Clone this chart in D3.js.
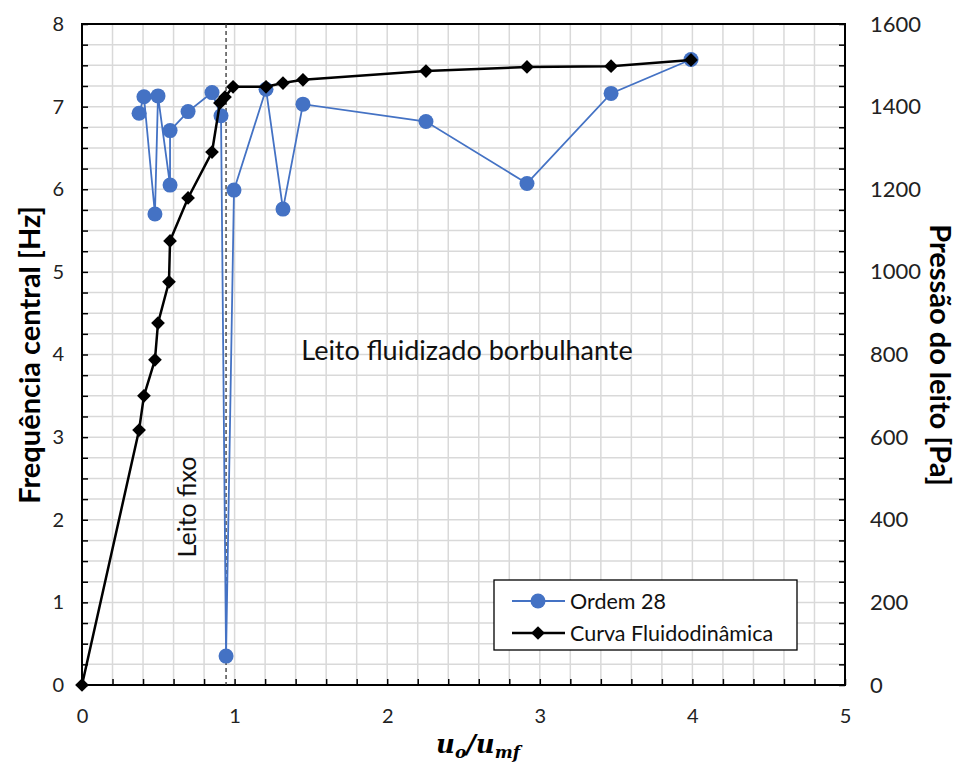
<!DOCTYPE html>
<html><head><meta charset="utf-8">
<script src="https://cdn.jsdelivr.net/npm/d3@7"></script>
<style>body{margin:0;background:#fff}svg{display:block}</style>
</head><body>
<script>
// Data
const uOrdem = [0.374,0.406,0.478,0.498,0.577,0.577,0.695,0.852,0.911,0.944,0.996,1.206,1.317,1.448,2.254,2.916,3.467,3.991];
const freqOrdem = [6.92,7.12,5.70,7.13,6.05,6.71,6.94,7.17,6.89,0.35,5.99,7.21,5.76,7.03,6.82,6.07,7.16,7.57];
const uCurva = [0,0.374,0.406,0.478,0.498,0.570,0.577,0.695,0.852,0.904,0.937,0.990,1.206,1.317,1.448,2.254,2.916,3.467,3.991];
const pCurva = [0,617,700,787,876,976,1075,1179,1290,1409,1423,1448,1448,1457,1465,1486,1496,1498,1513];
const xTicks = [0,1,2,3,4,5];
const yTicks = [0,1,2,3,4,5,6,7,8];
const y2Ticks = [0,200,400,600,800,1000,1200,1400,1600];
const uMf = 0.944;

const W=960,H=763;
const L=82,R=845,T=24,B=685;
const svg=d3.select("body").append("svg").attr("width",W).attr("height",H);
const x=d3.scaleLinear().domain([0,5]).range([L,R]);
const y=d3.scaleLinear().domain([0,8]).range([B,T]);
const y2=d3.scaleLinear().domain([0,1600]).range([B,T]);
const font="Lato, 'Open Sans', sans-serif";

// gridlines
const g=svg.append("g");
g.selectAll(".vg").data(d3.range(1,25).map(i=>i*0.2)).enter().append("line")
 .attr("x1",d=>x(d)).attr("x2",d=>x(d)).attr("y1",T).attr("y2",B)
 .attr("stroke","#d9d9d9").attr("stroke-width",1.5);
g.selectAll(".hg").data(d3.range(1,32).map(i=>i*0.25)).enter().append("line")
 .attr("y1",d=>y(d)).attr("y2",d=>y(d)).attr("x1",L).attr("x2",R)
 .attr("stroke","#d9d9d9").attr("stroke-width",1.5);

// axes with inward minor ticks
const minorX=d3.range(0,26).map(i=>i*0.2);
const minorY=d3.range(0,33).map(i=>i*0.25);
const minorY2=d3.range(0,33).map(i=>i*50);
svg.append("g").attr("transform",`translate(0,${B})`)
 .call(d3.axisTop(x).tickValues(minorX).tickSize(6).tickFormat(""))
 .call(a=>a.select(".domain").remove()).selectAll("line").attr("stroke","#000").attr("stroke-width",1.5);
svg.append("g").attr("transform",`translate(${L},0)`)
 .call(d3.axisRight(y).tickValues(minorY).tickSize(6).tickFormat(""))
 .call(a=>a.select(".domain").remove()).selectAll("line").attr("stroke","#000").attr("stroke-width",1.5);
svg.append("g").attr("transform",`translate(${R},0)`)
 .call(d3.axisLeft(y2).tickValues(minorY2).tickSize(6).tickFormat(""))
 .call(a=>a.select(".domain").remove()).selectAll("line").attr("stroke","#000").attr("stroke-width",1.5);

// tick labels
svg.append("g").attr("transform",`translate(0,${B+4})`)
 .call(d3.axisBottom(x).tickValues(xTicks).tickSize(0).tickPadding(20).tickFormat(d3.format("d")))
 .call(a=>a.select(".domain").remove()).selectAll("text").attr("font-family",font).attr("font-size",20).attr("fill","#222");
svg.append("g").attr("transform",`translate(${L-12},0)`)
 .call(d3.axisLeft(y).tickValues(yTicks).tickSize(0).tickPadding(6).tickFormat(d3.format("d")))
 .call(a=>a.select(".domain").remove()).selectAll("text").attr("font-family",font).attr("font-size",20).attr("fill","#222");
svg.append("g").attr("transform",`translate(${R+19},0)`)
 .call(d3.axisRight(y2).tickValues(y2Ticks).tickSize(0).tickPadding(6).tickFormat(d3.format("d")))
 .call(a=>a.select(".domain").remove()).selectAll("text").attr("font-family",font).attr("font-size",22).attr("fill","#222");

// frame
svg.append("rect").attr("x",L).attr("y",T).attr("width",R-L).attr("height",B-T)
 .attr("fill","none").attr("stroke","#000").attr("stroke-width",2);

// dashed umf line
svg.append("line").attr("x1",x(uMf)).attr("x2",x(uMf)).attr("y1",T).attr("y2",B)
 .attr("stroke","#333").attr("stroke-width",1.3).attr("stroke-dasharray","4,3");

// Ordem 28 series
const ordem=uOrdem.map((u,i)=>[u,freqOrdem[i]]);
svg.append("path").datum(ordem).attr("fill","none").attr("stroke","#4472C4").attr("stroke-width",1.8)
 .attr("d",d3.line().x(d=>x(d[0])).y(d=>y(d[1])));
svg.selectAll(".pt").data(ordem).enter().append("circle")
 .attr("cx",d=>x(d[0])).attr("cy",d=>y(d[1])).attr("r",7.5).attr("fill","#4472C4");

// Curva series
const curva=uCurva.map((u,i)=>[u,pCurva[i]]);
svg.append("path").datum(curva).attr("fill","none").attr("stroke","#000").attr("stroke-width",2.5)
 .attr("d",d3.line().x(d=>x(d[0])).y(d=>y2(d[1])));
const dia=d3.symbol().type(d3.symbolDiamond2).size(120);
svg.selectAll(".dm").data(curva).enter().append("path")
 .attr("transform",d=>`translate(${x(d[0])},${y2(d[1])})`).attr("d",dia).attr("fill","#000");

// annotations
svg.append("text").attr("x",467).attr("y",360).attr("text-anchor","middle")
 .attr("font-family",font).attr("font-size",27).attr("fill","#111").text("Leito fluidizado borbulhante");
svg.append("text").attr("transform","translate(196,507) rotate(-90)").attr("text-anchor","middle")
 .attr("font-family",font).attr("font-size",25).attr("fill","#111").text("Leito fixo");

// axis titles
svg.append("text").attr("transform","translate(40,355) rotate(-90)").attr("text-anchor","middle")
 .attr("font-family",font).attr("font-weight","bold").attr("font-size",29).text("Frequência central [Hz]");
svg.append("text").attr("transform","translate(930,355) rotate(90)").attr("text-anchor","middle")
 .attr("font-family",font).attr("font-weight","bold").attr("font-size",29).text("Pressão do leito [Pa]");
const xt=svg.append("text").attr("x",478).attr("y",753).attr("text-anchor","middle")
 .attr("font-family","'DejaVu Serif', serif").attr("font-weight","bold").attr("font-style","italic").attr("font-size",26);
xt.append("tspan").text("u");
xt.append("tspan").attr("font-size",17).attr("dy",5).text("o");
xt.append("tspan").attr("dy",-5).text("/u");
xt.append("tspan").attr("font-size",17).attr("dy",5).text("mf");

// legend
const lg=svg.append("g");
lg.append("rect").attr("x",494).attr("y",580).attr("width",303).attr("height",70)
 .attr("fill","#fff").attr("stroke","#000").attr("stroke-width",1.3);
lg.append("line").attr("x1",512).attr("x2",565).attr("y1",601).attr("y2",601).attr("stroke","#4472C4").attr("stroke-width",1.8);
lg.append("circle").attr("cx",538).attr("cy",601).attr("r",7.5).attr("fill","#4472C4");
lg.append("line").attr("x1",512).attr("x2",565).attr("y1",633).attr("y2",633).attr("stroke","#000").attr("stroke-width",2.5);
lg.append("path").attr("transform","translate(538,633)").attr("d",dia).attr("fill","#000");
lg.append("text").attr("x",570).attr("y",609).attr("font-family",font).attr("font-size",21.5).attr("fill","#111").text("Ordem 28");
lg.append("text").attr("x",570).attr("y",641).attr("font-family",font).attr("font-size",21.5).attr("fill","#111").text("Curva Fluidodinâmica");
</script>
</body></html>
